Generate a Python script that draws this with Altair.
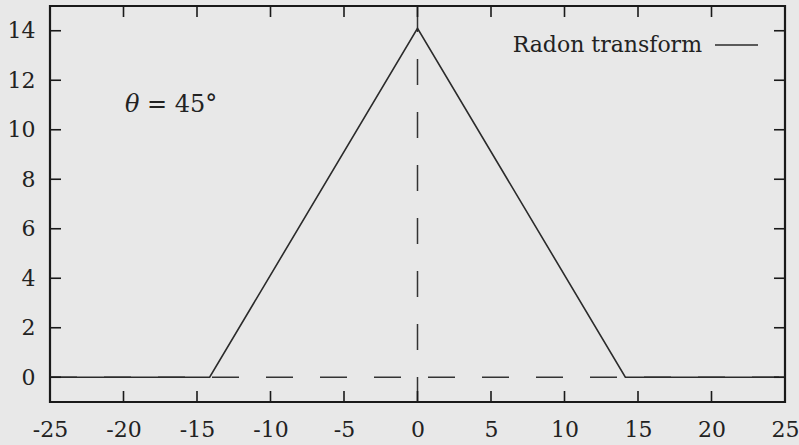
import altair as alt
import pandas as pd

# Radon transform of the test object at theta = 45 degrees
s_vals = [-25, -14.14, 0, 14.14, 25]
radon_vals = [0, 0, 14.1, 0, 0]

x_ticks = [-25, -20, -15, -10, -5, 0, 5, 10, 15, 20, 25]
y_ticks = [0, 2, 4, 6, 8, 10, 12, 14]

X_DOMAIN = [-25, 25]
Y_DOMAIN = [-1, 15]

FONT = "DejaVu Serif"
FS = 22
INK = "#222222"
W, H = 735, 396
TICK = 11

curve = pd.DataFrame({"s": s_vals, "r": radon_vals})
xt = pd.DataFrame({"v": x_ticks})
yt = pd.DataFrame({"v": y_ticks})

xs = alt.Scale(domain=X_DOMAIN, nice=False, zero=False)
ys = alt.Scale(domain=Y_DOMAIN, nice=False, zero=False)

# plain hyphen for negative labels
LABEL = "'' + datum.value"

x_axis = alt.Axis(values=x_ticks, ticks=False, domain=False, grid=False,
                  labelFont=FONT, labelFontSize=FS, labelColor=INK,
                  labelPadding=17, labelFlush=False, labelExpr=LABEL)
y_axis = alt.Axis(values=y_ticks, ticks=False, domain=False, grid=False,
                  labelFont=FONT, labelFontSize=FS, labelColor=INK,
                  labelPadding=15, labelExpr=LABEL)

line = alt.Chart(curve).mark_line(color="#2b2b2b", strokeWidth=1.6).encode(
    x=alt.X("s:Q", scale=xs, axis=x_axis, title=None),
    y=alt.Y("r:Q", scale=ys, axis=y_axis, title=None),
)

# dashed coordinate axes through the origin
zero_h = alt.Chart(pd.DataFrame({"y": [0]})).mark_rule(
    color="#333333", strokeWidth=1.5, strokeDash=[27, 27]
).encode(y=alt.Y("y:Q", scale=ys), x=alt.value(0), x2=alt.value(W))

zero_v = alt.Chart(pd.DataFrame({"x": [0]})).mark_rule(
    color="#333333", strokeWidth=1.5, strokeDash=[26, 27]
).encode(x=alt.X("x:Q", scale=xs), y=alt.value(0), y2=alt.value(H))

# inward tick marks on all four sides
tick_style = dict(color="#1a1a1a", strokeWidth=1.6)
t_left = alt.Chart(yt).mark_rule(**tick_style).encode(
    y=alt.Y("v:Q", scale=ys), x=alt.value(0), x2=alt.value(TICK))
t_right = alt.Chart(yt).mark_rule(**tick_style).encode(
    y=alt.Y("v:Q", scale=ys), x=alt.value(W - TICK), x2=alt.value(W))
t_bottom = alt.Chart(xt).mark_rule(**tick_style).encode(
    x=alt.X("v:Q", scale=xs), y=alt.value(H - TICK), y2=alt.value(H))
t_top = alt.Chart(xt).mark_rule(**tick_style).encode(
    x=alt.X("v:Q", scale=xs), y=alt.value(0), y2=alt.value(TICK))

# legend: label followed by a line sample
key_text = alt.Chart(pd.DataFrame({"t": ["Radon transform"]})).mark_text(
    font=FONT, fontSize=FS, color=INK, align="right", baseline="middle"
).encode(text="t:N", x=alt.value(652), y=alt.value(39))
key_line = alt.Chart(pd.DataFrame({"k": [1]})).mark_rule(
    color="#2b2b2b", strokeWidth=1.6
).encode(x=alt.value(665), x2=alt.value(708), y=alt.value(39))

# angle annotation
theta_sym = alt.Chart(pd.DataFrame({"x": [-19.9], "y": [11.0], "t": ["θ"]})).mark_text(
    font=FONT, fontSize=FS + 2, fontStyle="italic", color=INK, align="left", baseline="middle"
).encode(x=alt.X("x:Q", scale=xs), y=alt.Y("y:Q", scale=ys), text="t:N")
theta_val = alt.Chart(pd.DataFrame({"x": [-18.4], "y": [11.0], "t": ["= 45°"]})).mark_text(
    font=FONT, fontSize=FS + 2, color=INK, align="left", baseline="middle"
).encode(x=alt.X("x:Q", scale=xs), y=alt.Y("y:Q", scale=ys), text="t:N")

chart = alt.layer(
    zero_h, zero_v, line, t_left, t_right, t_bottom, t_top,
    key_text, key_line, theta_sym, theta_val
).properties(
    width=W, height=H,
    autosize=alt.AutoSizeParams(type="none"),
    padding={"left": 50, "top": 6, "right": 14, "bottom": 43},
    background="#e8e8e8",
).configure_view(stroke="#1a1a1a", strokeWidth=2.2)

chart.save("out.html", embed_options={"renderer": "svg", "actions": False})
